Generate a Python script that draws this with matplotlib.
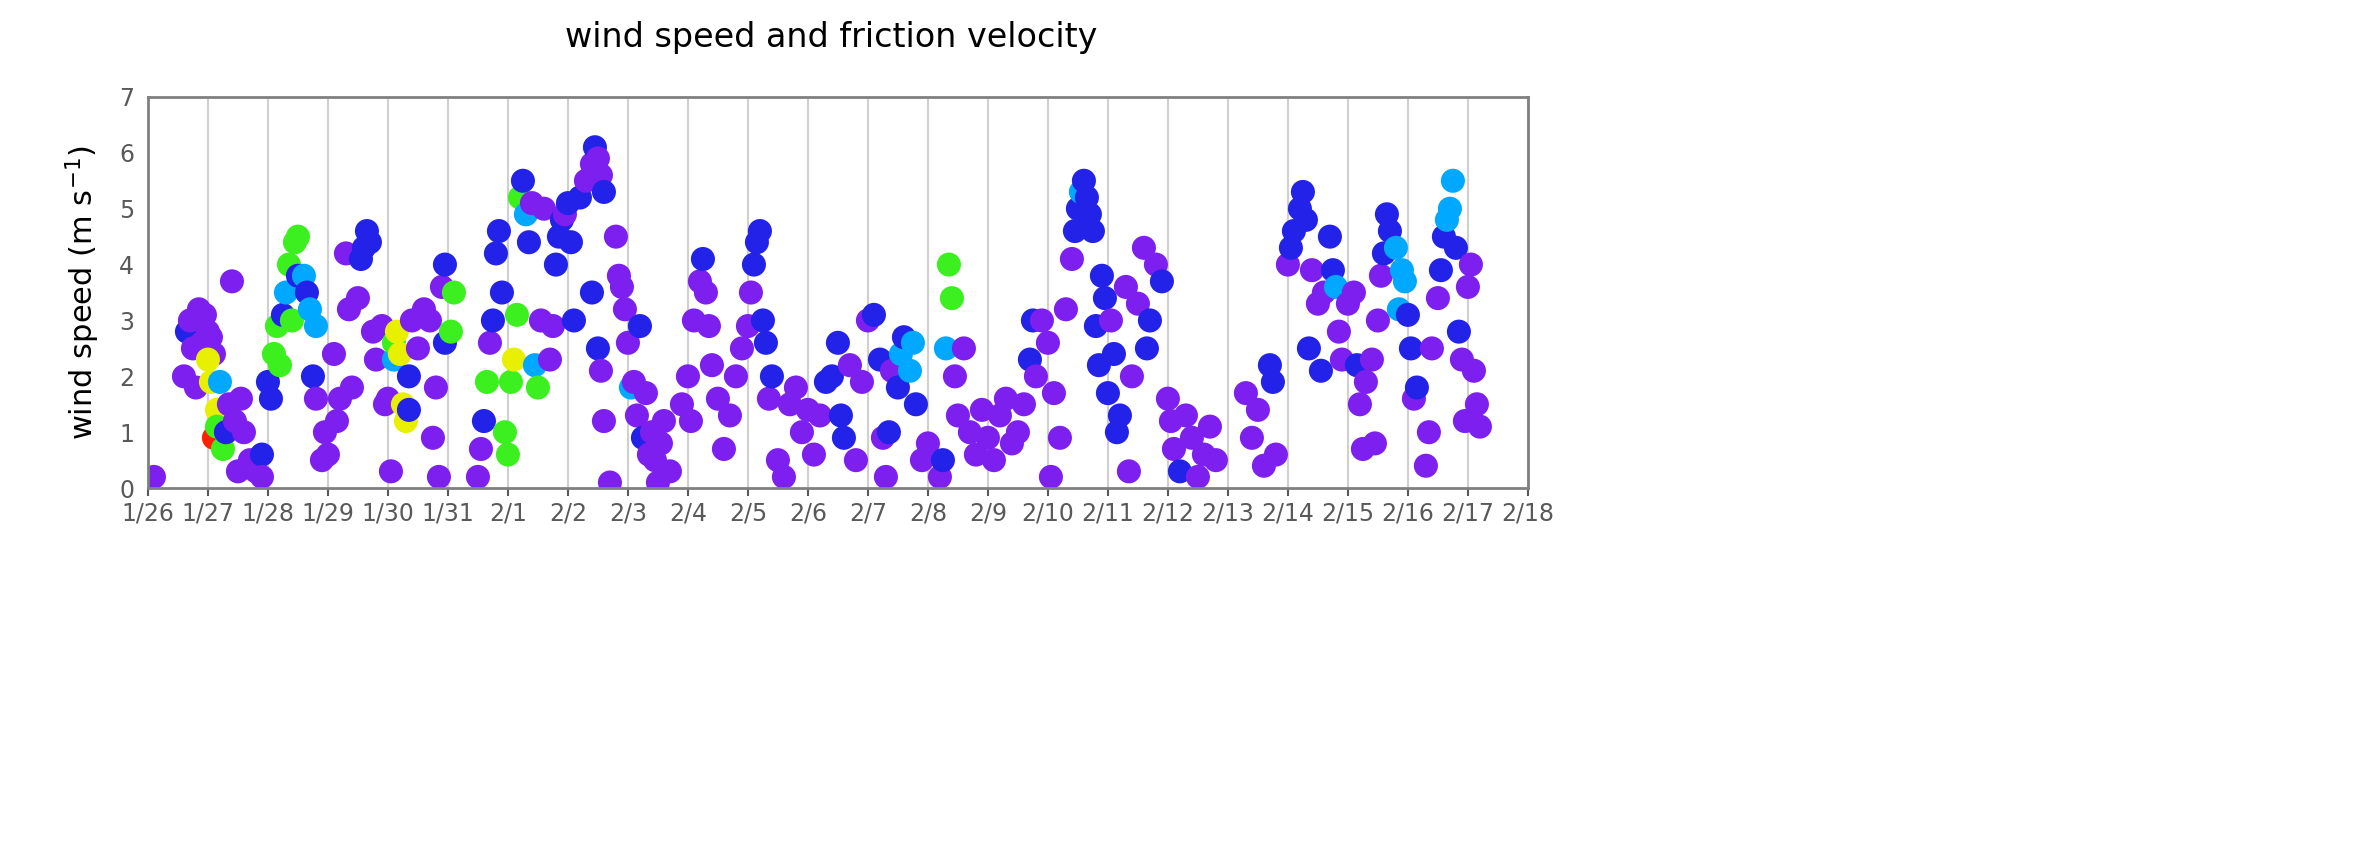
import matplotlib.pyplot as plt
from matplotlib.colors import LinearSegmentedColormap

# friction velocity class (v violet ... r red)
ustar_level = {'v': 0.03, 'b': 0.2, 'c': 0.4, 'g': 0.6, 'y': 0.8, 'r': 1.0}

date_labels = ['1/26', '1/27', '1/28', '1/29', '1/30', '1/31', '2/1', '2/2', '2/3',
               '2/4', '2/5', '2/6', '2/7', '2/8', '2/9', '2/10', '2/11', '2/12',
               '2/13', '2/14', '2/15', '2/16', '2/17', '2/18']

# (days since 1/26, wind speed m/s, u* class)
points = [
    (0.1, 0.2, 'v'), (0.6, 2.0, 'v'), (0.65, 2.8, 'b'), (0.7, 3.0, 'v'), (0.75, 2.5, 'v'),
    (0.8, 1.8, 'v'), (0.85, 3.2, 'v'), (0.9, 2.6, 'v'), (0.95, 3.1, 'v'), (1.0, 2.8, 'v'),
    (1.05, 2.7, 'v'), (1.1, 2.4, 'v'), (1.0, 2.3, 'y'), (1.05, 1.9, 'y'), (1.1, 0.9, 'r'),
    (1.15, 1.4, 'y'), (1.2, 1.9, 'c'), (1.15, 1.1, 'g'), (1.25, 0.7, 'g'), (1.3, 1.0, 'b'),
    (1.35, 1.5, 'v'), (1.4, 3.7, 'v'), (1.45, 1.2, 'v'), (1.5, 0.3, 'v'), (1.55, 1.6, 'v'),
    (1.6, 1.0, 'v'), (1.7, 0.5, 'v'), (1.8, 0.3, 'v'), (1.9, 0.6, 'b'), (1.9, 0.2, 'v'),
    (2.0, 1.9, 'b'), (2.05, 1.6, 'b'), (2.1, 2.4, 'g'), (2.15, 2.9, 'g'), (2.2, 2.2, 'g'),
    (2.25, 3.1, 'b'), (2.3, 3.5, 'c'), (2.35, 4.0, 'g'), (2.4, 3.0, 'g'), (2.45, 4.4, 'g'),
    (2.5, 4.5, 'g'), (2.5, 3.8, 'b'), (2.6, 3.8, 'c'), (2.65, 3.5, 'b'), (2.7, 3.2, 'c'),
    (2.75, 2.0, 'b'), (2.8, 2.9, 'c'), (2.8, 1.6, 'v'), (2.9, 0.5, 'v'), (2.95, 1.0, 'v'),
    (3.0, 0.6, 'v'), (3.1, 2.4, 'v'), (3.15, 1.2, 'v'), (3.2, 1.6, 'v'), (3.3, 4.2, 'v'),
    (3.35, 3.2, 'v'), (3.4, 1.8, 'v'), (3.5, 3.4, 'v'), (3.55, 4.1, 'b'), (3.6, 4.3, 'b'),
    (3.65, 4.6, 'b'), (3.7, 4.4, 'b'), (3.75, 2.8, 'v'), (3.8, 2.3, 'v'), (3.9, 2.9, 'v'),
    (3.95, 1.5, 'v'), (4.0, 1.6, 'v'), (4.05, 0.3, 'v'), (4.1, 2.3, 'c'), (4.1, 2.6, 'g'),
    (4.15, 2.8, 'y'), (4.2, 2.4, 'y'), (4.25, 1.5, 'y'), (4.3, 1.2, 'y'), (4.35, 2.0, 'b'),
    (4.35, 1.4, 'b'), (4.4, 3.0, 'v'), (4.5, 2.5, 'v'), (4.6, 3.2, 'v'), (4.7, 3.0, 'v'),
    (4.75, 0.9, 'v'), (4.8, 1.8, 'v'), (4.85, 0.2, 'v'), (4.9, 3.6, 'v'), (4.95, 4.0, 'b'),
    (4.95, 2.6, 'b'), (5.1, 3.5, 'g'), (5.05, 2.8, 'g'), (5.5, 0.2, 'v'), (5.55, 0.7, 'v'),
    (5.6, 1.2, 'b'), (5.65, 1.9, 'g'), (5.7, 2.6, 'v'), (5.75, 3.0, 'b'), (5.8, 4.2, 'b'),
    (5.85, 4.6, 'b'), (5.9, 3.5, 'b'), (5.95, 1.0, 'g'), (6.0, 0.6, 'g'), (6.05, 1.9, 'g'),
    (6.1, 2.3, 'y'), (6.15, 3.1, 'g'), (6.2, 5.2, 'g'), (6.25, 5.5, 'b'), (6.3, 4.9, 'c'),
    (6.35, 4.4, 'b'), (6.4, 5.1, 'v'), (6.45, 2.2, 'c'), (6.5, 1.8, 'g'), (6.55, 3.0, 'v'),
    (6.6, 5.0, 'v'), (6.7, 2.3, 'v'), (6.75, 2.9, 'v'), (6.8, 4.0, 'b'), (6.85, 4.5, 'b'),
    (6.9, 4.8, 'b'), (6.95, 4.9, 'v'), (7.0, 5.1, 'b'), (7.05, 4.4, 'b'), (7.1, 3.0, 'b'),
    (7.2, 5.2, 'b'), (7.3, 5.5, 'v'), (7.4, 5.8, 'v'), (7.45, 6.1, 'b'), (7.5, 5.9, 'v'),
    (7.55, 5.6, 'v'), (7.6, 5.3, 'b'), (7.4, 3.5, 'b'), (7.5, 2.5, 'b'), (7.55, 2.1, 'v'),
    (7.6, 1.2, 'v'), (7.7, 0.1, 'v'), (7.8, 4.5, 'v'), (7.85, 3.8, 'v'), (7.9, 3.6, 'v'),
    (7.95, 3.2, 'v'), (8.0, 2.6, 'v'), (8.05, 1.8, 'c'), (8.1, 1.9, 'v'), (8.15, 1.3, 'v'),
    (8.2, 2.9, 'b'), (8.25, 0.9, 'b'), (8.3, 1.7, 'v'), (8.35, 0.6, 'v'), (8.4, 1.0, 'v'),
    (8.45, 0.5, 'v'), (8.5, 0.1, 'v'), (8.55, 0.8, 'v'), (8.6, 1.2, 'v'), (8.7, 0.3, 'v'),
    (8.9, 1.5, 'v'), (9.0, 2.0, 'v'), (9.05, 1.2, 'v'), (9.1, 3.0, 'v'), (9.2, 3.7, 'v'),
    (9.25, 4.1, 'b'), (9.3, 3.5, 'v'), (9.35, 2.9, 'v'), (9.4, 2.2, 'v'), (9.5, 1.6, 'v'),
    (9.6, 0.7, 'v'), (9.7, 1.3, 'v'), (9.8, 2.0, 'v'), (9.9, 2.5, 'v'), (10.0, 2.9, 'v'),
    (10.05, 3.5, 'v'), (10.1, 4.0, 'b'), (10.15, 4.4, 'b'), (10.2, 4.6, 'b'), (10.25, 3.0, 'b'),
    (10.3, 2.6, 'b'), (10.35, 1.6, 'v'), (10.4, 2.0, 'b'), (10.5, 0.5, 'v'), (10.6, 0.2, 'v'),
    (10.7, 1.5, 'v'), (10.8, 1.8, 'v'), (10.9, 1.0, 'v'), (11.0, 1.4, 'v'), (11.1, 0.6, 'v'),
    (11.2, 1.3, 'v'), (11.3, 1.9, 'b'), (11.4, 2.0, 'b'), (11.5, 2.6, 'b'), (11.55, 1.3, 'b'),
    (11.6, 0.9, 'b'), (11.7, 2.2, 'v'), (11.8, 0.5, 'v'), (11.9, 1.9, 'v'), (12.0, 3.0, 'v'),
    (12.1, 3.1, 'b'), (12.2, 2.3, 'b'), (12.25, 0.9, 'v'), (12.3, 0.2, 'v'), (12.35, 1.0, 'b'),
    (12.4, 2.1, 'v'), (12.5, 1.8, 'b'), (12.55, 2.4, 'c'), (12.6, 2.7, 'b'), (12.7, 2.1, 'c'),
    (12.75, 2.6, 'c'), (12.8, 1.5, 'b'), (12.9, 0.5, 'v'), (13.0, 0.8, 'v'), (13.2, 0.2, 'v'),
    (13.25, 0.5, 'b'), (13.3, 2.5, 'c'), (13.35, 4.0, 'g'), (13.4, 3.4, 'g'), (13.45, 2.0, 'v'),
    (13.5, 1.3, 'v'), (13.6, 2.5, 'v'), (13.7, 1.0, 'v'), (13.8, 0.6, 'v'), (13.9, 1.4, 'v'),
    (14.0, 0.9, 'v'), (14.1, 0.5, 'v'), (14.2, 1.3, 'v'), (14.3, 1.6, 'v'), (14.4, 0.8, 'v'),
    (14.5, 1.0, 'v'), (14.6, 1.5, 'v'), (14.7, 2.3, 'b'), (14.75, 3.0, 'b'), (14.8, 2.0, 'v'),
    (14.9, 3.0, 'v'), (15.0, 2.6, 'v'), (15.05, 0.2, 'v'), (15.1, 1.7, 'v'), (15.2, 0.9, 'v'),
    (15.3, 3.2, 'v'), (15.4, 4.1, 'v'), (15.45, 4.6, 'b'), (15.5, 5.0, 'b'), (15.55, 5.3, 'c'),
    (15.6, 5.5, 'b'), (15.65, 5.2, 'b'), (15.7, 4.9, 'b'), (15.75, 4.6, 'b'), (15.8, 2.9, 'b'),
    (15.85, 2.2, 'b'), (15.9, 3.8, 'b'), (15.95, 3.4, 'b'), (16.0, 1.7, 'b'), (16.05, 3.0, 'v'),
    (16.1, 2.4, 'b'), (16.15, 1.0, 'b'), (16.2, 1.3, 'b'), (16.3, 3.6, 'v'), (16.35, 0.3, 'v'),
    (16.4, 2.0, 'v'), (16.5, 3.3, 'v'), (16.6, 4.3, 'v'), (16.65, 2.5, 'b'), (16.7, 3.0, 'b'),
    (16.8, 4.0, 'v'), (16.9, 3.7, 'b'), (17.0, 1.6, 'v'), (17.05, 1.2, 'v'), (17.1, 0.7, 'v'),
    (17.2, 0.3, 'b'), (17.3, 1.3, 'v'), (17.4, 0.9, 'v'), (17.5, 0.2, 'v'), (17.6, 0.6, 'v'),
    (17.7, 1.1, 'v'), (17.8, 0.5, 'v'), (18.3, 1.7, 'v'), (18.4, 0.9, 'v'), (18.5, 1.4, 'v'),
    (18.6, 0.4, 'v'), (18.7, 2.2, 'b'), (18.75, 1.9, 'b'), (18.8, 0.6, 'v'), (19.0, 4.0, 'v'),
    (19.05, 4.3, 'b'), (19.1, 4.6, 'b'), (19.2, 5.0, 'b'), (19.25, 5.3, 'b'), (19.3, 4.8, 'b'),
    (19.35, 2.5, 'b'), (19.4, 3.9, 'v'), (19.5, 3.3, 'v'), (19.55, 2.1, 'b'), (19.6, 3.5, 'v'),
    (19.7, 4.5, 'b'), (19.75, 3.9, 'b'), (19.8, 3.6, 'c'), (19.85, 2.8, 'v'), (19.9, 2.3, 'v'),
    (20.0, 3.3, 'v'), (20.1, 3.5, 'v'), (20.15, 2.2, 'b'), (20.2, 1.5, 'v'), (20.25, 0.7, 'v'),
    (20.3, 1.9, 'v'), (20.4, 2.3, 'v'), (20.45, 0.8, 'v'), (20.5, 3.0, 'v'), (20.55, 3.8, 'v'),
    (20.6, 4.2, 'b'), (20.65, 4.9, 'b'), (20.7, 4.6, 'b'), (20.8, 4.3, 'c'), (20.85, 3.2, 'c'),
    (20.9, 3.9, 'c'), (20.95, 3.7, 'c'), (21.0, 3.1, 'b'), (21.05, 2.5, 'b'), (21.1, 1.6, 'v'),
    (21.15, 1.8, 'b'), (21.3, 0.4, 'v'), (21.35, 1.0, 'v'), (21.4, 2.5, 'v'), (21.5, 3.4, 'v'),
    (21.55, 3.9, 'b'), (21.6, 4.5, 'b'), (21.65, 4.8, 'c'), (21.7, 5.0, 'c'), (21.75, 5.5, 'c'),
    (21.8, 4.3, 'b'), (21.85, 2.8, 'b'), (21.9, 2.3, 'v'), (21.95, 1.2, 'v'), (22.0, 3.6, 'v'),
    (22.05, 4.0, 'v'), (22.1, 2.1, 'v'), (22.15, 1.5, 'v'), (22.2, 1.1, 'v'),
]

day = [p[0] for p in points]
wind_speed = [p[1] for p in points]
ustar = [ustar_level[p[2]] for p in points]

cmap = LinearSegmentedColormap.from_list(
    'ustar', ['#8a1ff0', '#2222e8', '#00a8ff', '#3cf020', '#e8f000', '#ff2000'])

fig = plt.figure(figsize=(23.67, 8.43), dpi=100)
ax = fig.add_axes([0.0625, 0.421, 0.583, 0.464])

for d in range(len(date_labels)):
    ax.axvline(d, color='#d0d0d0', lw=1.5, zorder=0)

ax.scatter(day, wind_speed, c=ustar, cmap=cmap, vmin=0, vmax=1, s=300,
           edgecolors='none', zorder=2)

ax.set_xlim(0, 23)
ax.set_ylim(0, 7)
ax.set_xticks(range(len(date_labels)))
ax.set_xticklabels(date_labels)
ax.set_yticks(range(8))
ax.tick_params(labelsize=17, colors='#595959', length=6, width=1.5)
ax.tick_params(axis='y', length=0, pad=10)
for s in ax.spines.values():
    s.set_color('#808080')
    s.set_linewidth(2)
ax.set_ylabel('wind speed (m s$^{-1}$)', fontsize=22, labelpad=12)
fig.text(0.351, 0.955, 'wind speed and friction velocity', ha='center', va='center',
         fontsize=24)

fig.savefig('out.png', dpi=100)
